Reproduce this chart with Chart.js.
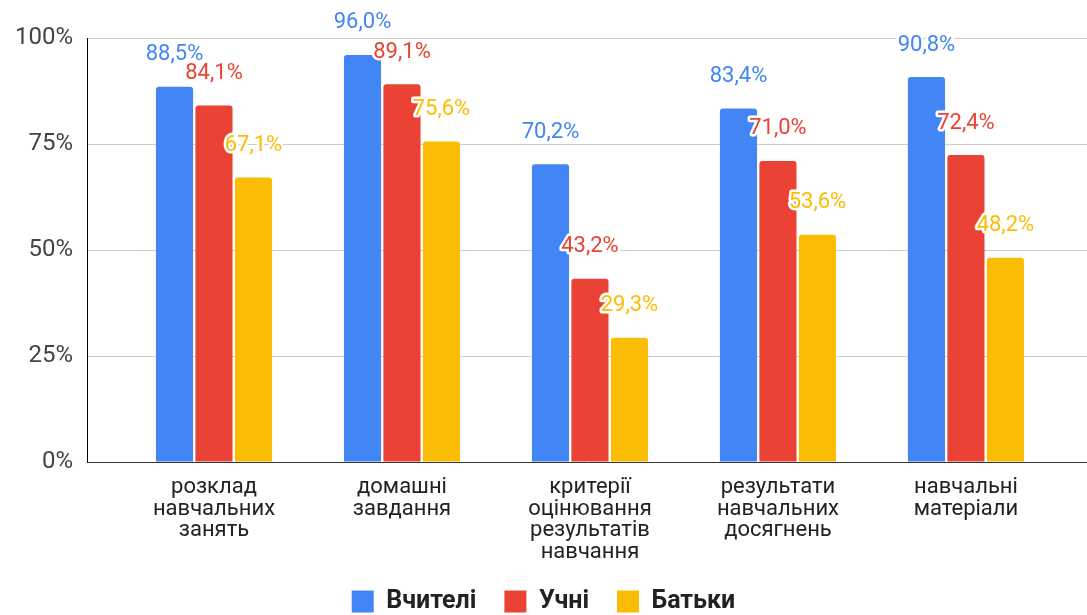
<!DOCTYPE html>
<html><head><meta charset="utf-8">
<script src="https://cdn.jsdelivr.net/npm/chart.js@4"></script>
<style>html,body{margin:0;padding:0;background:#fff}#wrap{width:1087px;height:615px;position:relative}</style>
</head><body><div id="wrap"><canvas id="c"></canvas></div>
<script>
const categories = [["розклад","навчальних","занять"],["домашні","завдання"],["критерії","оцінювання","результатів","навчання"],["результати","навчальних","досягнень"],["навчальні","матеріали"]];
const seriesNames = ["Вчителі","Учні","Батьки"];
const teachers = [88.5, 96.0, 70.2, 83.4, 90.8];
const students = [84.1, 89.1, 43.2, 71.0, 72.4];
const parents = [67.1, 75.6, 29.3, 53.6, 48.2];
const yTicks = [0, 25, 50, 75, 100];
const colors = ["#4285F4","#EA4335","#FBBC04"];

const series = [teachers, students, parents];
const datasets = series.map((vals, s) => ({
  label: seriesNames[s],
  data: vals.map((v, i) => ({x: i, y: v})),
  backgroundColor: colors[s],
  borderRadius: 3,
  borderSkipped: 'start',
  categoryPercentage: 0.63,
  barPercentage: 0.94
}));

const labelPlugin = {
  id: 'vlabels',
  afterDatasetsDraw(chart) {
    const ctx = chart.ctx;
    ctx.save();
    ctx.font = '22px Roboto';
    ctx.textAlign = 'center';
    ctx.textBaseline = 'middle';
    ctx.lineJoin = 'round';
    chart.data.datasets.forEach((ds, di) => {
      const meta = chart.getDatasetMeta(di);
      meta.data.forEach((el, i) => {
        const t = series[di][i].toFixed(1).replace('.', ',') + '%';
        const y = el.y - 32;
        ctx.strokeStyle = '#fff';
        ctx.lineWidth = 5;
        ctx.strokeText(t, el.x, y);
        ctx.fillStyle = colors[di];
        ctx.fillText(t, el.x, y);
      });
    });
    ctx.restore();
  }
};

new Chart(document.getElementById('c'), {
  type: 'bar',
  data: { datasets },
  plugins: [labelPlugin],
  options: {
    responsive: true,
    maintainAspectRatio: false,
    animation: false,
    layout: { padding: { top: 38, right: 0, left: 0, bottom: -9 } },
    plugins: {
      tooltip: { enabled: false },
      legend: {
        position: 'bottom',
        labels: {
          boxWidth: 22, boxHeight: 22, padding: 28,
          color: '#222',
          font: { family: 'Roboto', size: 25, weight: 'bold' }
        }
      }
    },
    scales: {
      x: {
        type: 'linear',
        offset: false,
        bounds: 'ticks',
        min: -0.6755,
        max: 4.644,
        afterBuildTicks(scale) { scale.ticks = categories.map((_, i) => ({ value: i })); },
        afterFit(scale) { scale.height = 99; },
        grid: { display: false, drawTicks: false, offset: false },
        border: { display: true, color: '#333', width: 1 },
        ticks: {
          autoSkip: false, maxRotation: 0, padding: 15,
          color: '#222',
          font: { family: 'Roboto', size: 22, lineHeight: 0.98 },
          callback: (v) => categories[v]
        }
      },
      y: {
        min: 0, max: 100,
        afterBuildTicks(scale) { scale.ticks = yTicks.map(v => ({ value: v })); },
        afterFit(scale) { scale.width = 87; },
        grid: { color: '#cccccc', lineWidth: 1, drawTicks: false },
        border: { display: true, color: '#000', width: 1 },
        ticks: {
          padding: 14,
          color: '#444',
          font: { family: 'Roboto', size: 24 },
          callback: (v) => v + '%'
        }
      }
    }
  }
});
</script></body></html>
